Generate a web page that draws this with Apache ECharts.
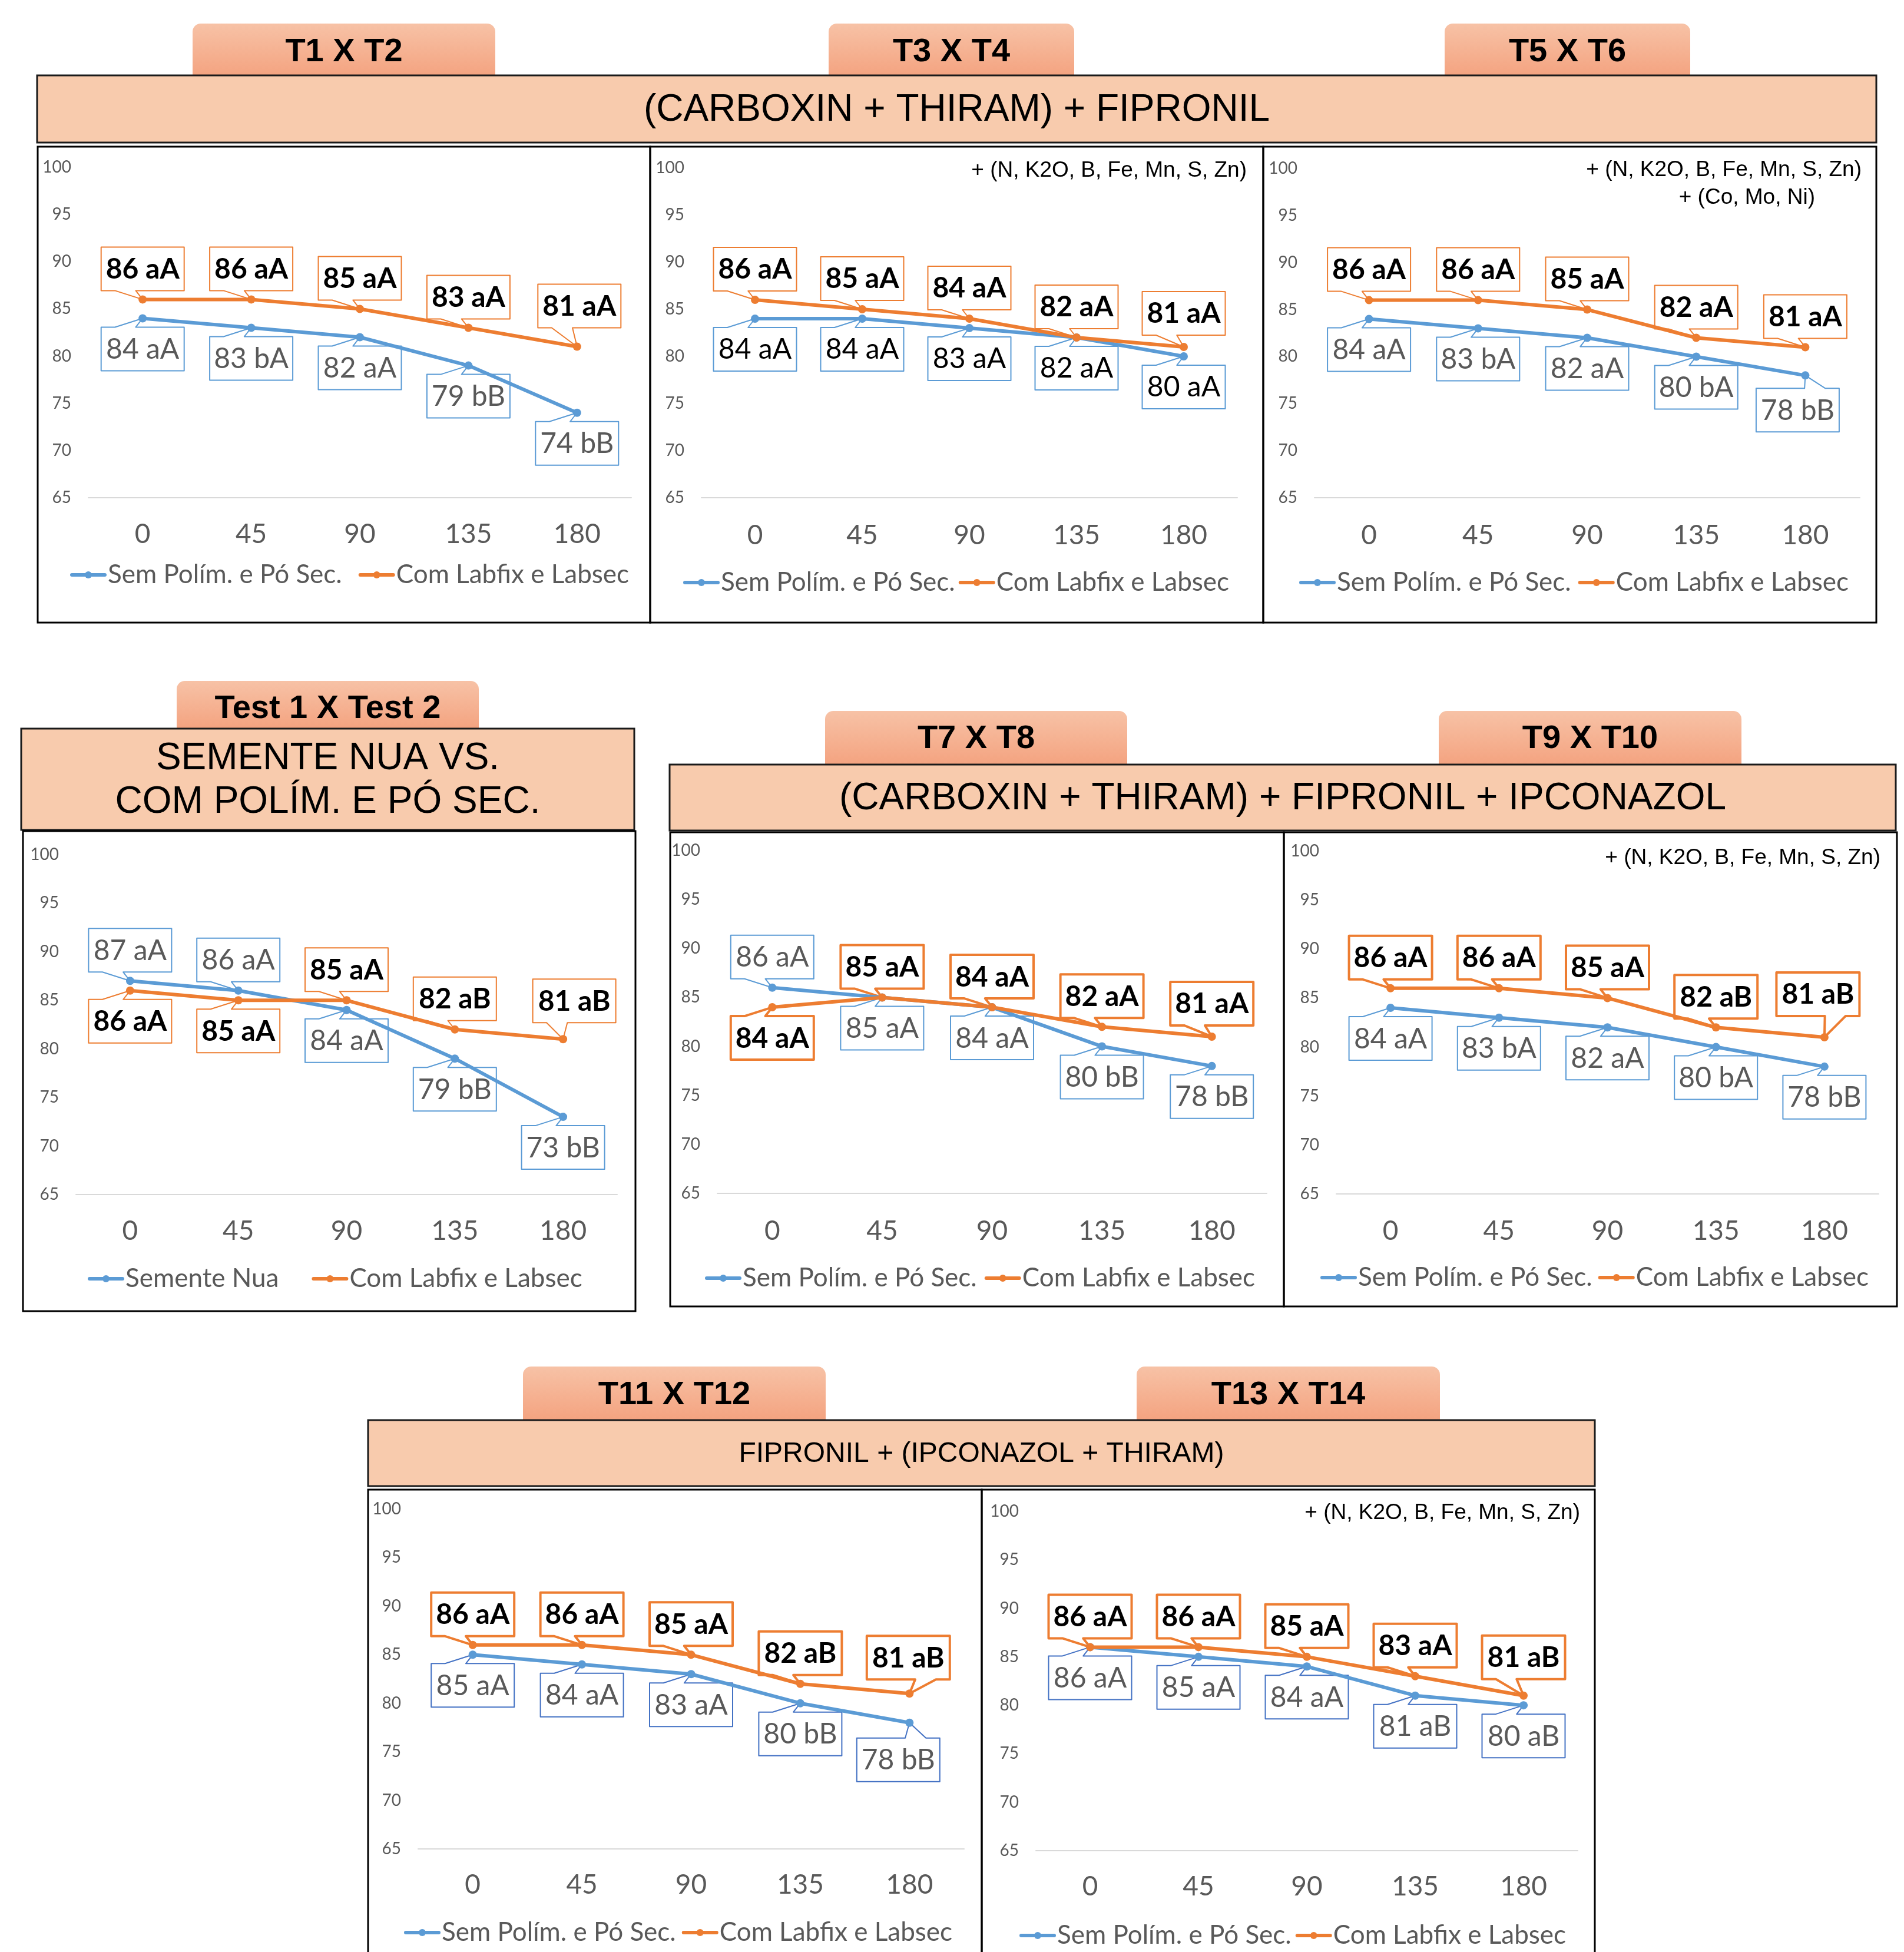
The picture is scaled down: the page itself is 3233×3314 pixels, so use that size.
<!DOCTYPE html>
<html>
<head>
<meta charset="utf-8">
<script src="https://cdn.jsdelivr.net/npm/echarts@6/dist/echarts.min.js"></script>
<style>
  html, body { margin: 0; padding: 0; background: #fff; }
  #main { width: 3233px; height: 3314px; }
</style>
</head>
<body>
<div id="main"></div>
<script>
// doses (x axis)
const doses = ['0', '45', '90', '135', '180'];

// T1 X T2
const t1t2Sem = [84, 83, 82, 79, 74];
const t1t2SemLetters = ['aA', 'bA', 'aA', 'bB', 'bB'];
const t1t2Com = [86, 86, 85, 83, 81];
const t1t2ComLetters = ['aA', 'aA', 'aA', 'aA', 'aA'];
// T3 X T4
const t3t4Sem = [84, 84, 83, 82, 80];
const t3t4SemLetters = ['aA', 'aA', 'aA', 'aA', 'aA'];
const t3t4Com = [86, 85, 84, 82, 81];
const t3t4ComLetters = ['aA', 'aA', 'aA', 'aA', 'aA'];
// T5 X T6
const t5t6Sem = [84, 83, 82, 80, 78];
const t5t6SemLetters = ['aA', 'bA', 'aA', 'bA', 'bB'];
const t5t6Com = [86, 86, 85, 82, 81];
const t5t6ComLetters = ['aA', 'aA', 'aA', 'aA', 'aA'];
// Test 1 X Test 2
const testNua = [87, 86, 84, 79, 73];
const testNuaLetters = ['aA', 'aA', 'aA', 'bB', 'bB'];
const testCom = [86, 85, 85, 82, 81];
const testComLetters = ['aA', 'aA', 'aA', 'aB', 'aB'];
// T7 X T8
const t7t8Sem = [86, 85, 84, 80, 78];
const t7t8SemLetters = ['aA', 'aA', 'aA', 'bB', 'bB'];
const t7t8Com = [84, 85, 84, 82, 81];
const t7t8ComLetters = ['aA', 'aA', 'aA', 'aA', 'aA'];
// T9 X T10
const t9t10Sem = [84, 83, 82, 80, 78];
const t9t10SemLetters = ['aA', 'bA', 'aA', 'bA', 'bB'];
const t9t10Com = [86, 86, 85, 82, 81];
const t9t10ComLetters = ['aA', 'aA', 'aA', 'aB', 'aB'];
// T11 X T12
const t11t12Sem = [85, 84, 83, 80, 78];
const t11t12SemLetters = ['aA', 'aA', 'aA', 'bB', 'bB'];
const t11t12Com = [86, 86, 85, 82, 81];
const t11t12ComLetters = ['aA', 'aA', 'aA', 'aB', 'aB'];
// T13 X T14
const t13t14Sem = [86, 85, 84, 81, 80];
const t13t14SemLetters = ['aA', 'aA', 'aA', 'aB', 'aB'];
const t13t14Com = [86, 86, 85, 83, 81];
const t13t14ComLetters = ['aA', 'aA', 'aA', 'aA', 'aB'];

const SEM = 'Sem Polím. e Pó Sec.';
const NUA = 'Semente Nua';
const COM = 'Com Labfix e Labsec';
const BLUE = '#5B9BD5';
const ORANGE = '#ED7D31';
const GREY = '#595959';
const BODY_FONT = 'Lato';
const TITLE_FONT = 'Liberation Sans';

const UP = [1, 1, 1, 1, 1];
const DOWN = [-1, -1, -1, -1, -1];

// one entry per small chart
const panels = [
  { sem: t1t2Sem, semTag: t1t2SemLetters, com: t1t2Com, comTag: t1t2ComLetters, semName: SEM,
    grid: [150, 284, 1072, 845], xMargin: 39, legend: [119, 954, 28],
    semSide: DOWN, comSide: UP, tweaks: { com4: [4, 32] }, semInk: GREY, semStroke: BLUE, comLw: 2 },
  { sem: t3t4Sem, semTag: t3t4SemLetters, com: t3t4Com, comTag: t3t4ComLetters, semName: SEM,
    grid: [1191, 285, 2101, 845], xMargin: 41, legend: [1160, 967, 6],
    semSide: DOWN, comSide: UP, tweaks: { com4: [0, 20] }, semInk: '#000', semStroke: BLUE, comLw: 2 },
  { sem: t5t6Sem, semTag: t5t6SemLetters, com: t5t6Com, comTag: t5t6ComLetters, semName: SEM,
    grid: [2232, 286, 3158, 845], xMargin: 41, legend: [2206, 967, 12],
    semSide: DOWN, comSide: UP, tweaks: { sem4: [-13, 22] }, semInk: GREY, semStroke: BLUE, comLw: 2 },
  { sem: testNua, semTag: testNuaLetters, com: testCom, comTag: testComLetters, semName: NUA,
    grid: [129, 1451, 1048, 2028], xMargin: 39, legend: [149, 2149, 56],
    semSide: [1, 1, -1, -1, -1], comSide: [-1, -1, 1, 1, 1], tweaks: { com4: [19, 28] }, semInk: GREY, semStroke: BLUE, comLw: 2 },
  { sem: t7t8Sem, semTag: t7t8SemLetters, com: t7t8Com, comTag: t7t8ComLetters, semName: SEM,
    grid: [1218, 1444, 2151, 2026], xMargin: 41, legend: [1197, 2148, 13],
    semSide: [1, -1, -1, -1, -1], comSide: [-1, 1, 1, 1, 1], tweaks: { com4: [0, 19] }, semInk: GREY, semStroke: BLUE, comLw: 4 },
  { sem: t9t10Sem, semTag: t9t10SemLetters, com: t9t10Com, comTag: t9t10ComLetters, semName: SEM,
    grid: [2269, 1445, 3190, 2027], xMargin: 40, legend: [2242, 2147, 10],
    semSide: DOWN, comSide: UP, tweaks: { com4: [-11, 36] }, semInk: GREY, semStroke: BLUE, comLw: 4 },
  { sem: t11t12Sem, semTag: t11t12SemLetters, com: t11t12Com, comTag: t11t12ComLetters, semName: SEM,
    grid: [710, 2562, 1637, 3139], xMargin: 38, legend: [686, 3259, 10],
    semSide: DOWN, comSide: UP, tweaks: { com4: [-2, 24], sem4: [-19, 26] }, semInk: GREY, semStroke: '#4472C4', comLw: 4 },
  { sem: t13t14Sem, semTag: t13t14SemLetters, com: t13t14Com, comTag: t13t14ComLetters, semName: SEM,
    grid: [1759, 2566, 2679, 3142], xMargin: 38, legend: [1731, 3264, 7],
    semSide: DOWN, comSide: UP, tweaks: { com4: [0, 28] }, semInk: GREY, semStroke: '#4472C4', comLw: 4 }
];

// header tabs: x, y, w, h, text, text centre y
const tabs = [
  [327, 40, 514, 89, 'T1 X T2', 89],
  [1407, 40, 417, 89, 'T3 X T4', 89],
  [2453, 40, 417, 89, 'T5 X T6', 89],
  [300, 1156, 513, 81, 'Test 1 X Test 2', 1204],
  [1401, 1207, 513, 91, 'T7 X T8', 1255],
  [2443, 1207, 514, 91, 'T9 X T10', 1255],
  [888, 2320, 514, 91, 'T11 X T12', 2369],
  [1930, 2320, 515, 91, 'T13 X T14', 2369]
];
// title bands: x, y, w, h, text, font size
const bands = [
  [63, 128, 3123, 114, '(CARBOXIN + THIRAM) + FIPRONIL', 64],
  [36, 1237, 1041, 172, 'SEMENTE NUA VS.\nCOM POLÍM. E PÓ SEC.', 64],
  [1137, 1298, 2082, 112, '(CARBOXIN + THIRAM) + FIPRONIL + IPCONAZOL', 64],
  [625, 2411, 2083, 112, 'FIPRONIL + (IPCONAZOL + THIRAM)', 48]
];
// chart frames
const frames = [
  [64, 249, 1040, 808], [1104, 249, 1041, 808], [2145, 249, 1041, 808],
  [39, 1411, 1040, 815], [1138, 1413, 1042, 805], [2180, 1413, 1041, 805],
  [625, 2529, 1042, 800], [1667, 2529, 1041, 800]
];
// small notes inside charts: right x, centre y, text
const notes = [
  [2117, 290, '+ (N, K2O, B, Fe, Mn, S, Zn)'],
  [3161, 289, '+ (N, K2O, B, Fe, Mn, S, Zn)'],
  [3082, 336, '+ (Co, Mo, Ni)'],
  [3193, 1457, '+ (N, K2O, B, Fe, Mn, S, Zn)'],
  [2683, 2569, '+ (N, K2O, B, Fe, Mn, S, Zn)']
];

const graphics = [];
tabs.forEach(t => {
  graphics.push({
    type: 'rect', z: 0,
    shape: { x: t[0], y: t[1], width: t[2], height: t[3], r: [14, 14, 0, 0] },
    style: { fill: new echarts.graphic.LinearGradient(0, 0, 0, 1, [
      { offset: 0, color: '#F7C2A6' }, { offset: 1, color: '#F4A380' }]) }
  });
  graphics.push({
    type: 'text', z: 1,
    style: { text: t[4], x: t[0] + t[2] / 2, y: t[5], textAlign: 'center', align: 'center',
      textVerticalAlign: 'middle', verticalAlign: 'middle',
      font: 'bold 56px "' + TITLE_FONT + '"', fill: '#000' }
  });
});
bands.forEach(b => {
  graphics.push({
    type: 'rect', z: 0,
    shape: { x: b[0], y: b[1], width: b[2], height: b[3] },
    style: { fill: '#F8CBAD', stroke: '#1a1a1a', lineWidth: 3 }
  });
  graphics.push({
    type: 'text', z: 1,
    style: { text: b[4], x: b[0] + b[2] / 2, y: b[1] + b[3] / 2 + 2, textAlign: 'center', align: 'center',
      textVerticalAlign: 'middle', verticalAlign: 'middle', lineHeight: 74,
      font: b[5] + 'px "' + TITLE_FONT + '"', fill: '#000' }
  });
});
frames.forEach(f => {
  graphics.push({
    type: 'rect', z: 0,
    shape: { x: f[0], y: f[1], width: f[2], height: f[3] },
    style: { fill: 'none', stroke: '#000', lineWidth: 3 }
  });
});
notes.forEach(n => {
  graphics.push({
    type: 'text', z: 1,
    style: { text: n[2], x: n[0], y: n[1], textAlign: 'right', align: 'right',
      textVerticalAlign: 'middle', verticalAlign: 'middle',
      font: '37px "' + TITLE_FONT + '"', fill: '#000' }
  });
});

// Excel-like callout label: box + wedge pointing to the data point
function callouts(i, vals, tags, sides, tweaks, key, look) {
  return {
    type: 'custom', xAxisIndex: i, yAxisIndex: i, z: 2, clip: false, silent: true,
    data: vals.map((v, k) => [k, v]),
    renderItem: function (params, api) {
      const k = params.dataIndex;
      const pt = api.coord([api.value(0), api.value(1)]);
      const tw = tweaks[key + k] || [0, 15];
      const up = sides[k] > 0;
      const w = 141, h = 74;
      const cx = pt[0] + tw[0];
      const top = up ? pt[1] - tw[1] - h : pt[1] + tw[1];
      const L = cx - w / 2, R = cx + w / 2, B = top + h;
      const right = pt[0] > cx + 1;
      const a = L + w * (right ? 7 : 2) / 12;
      const b = L + w * (right ? 10 : 5) / 12;
      const pts = up
        ? [[L, top], [R, top], [R, B], [b, B], pt, [a, B], [L, B]]
        : [[L, top], [a, top], pt, [b, top], [R, top], [R, B], [L, B]];
      return {
        type: 'group',
        children: [
          { type: 'polygon', shape: { points: pts },
            style: { fill: '#fff', stroke: look.stroke, lineWidth: look.lw, lineJoin: 'round' } },
          { type: 'text',
            style: { text: vals[k] + ' ' + tags[k], x: cx, y: top + h / 2 + 1,
              textAlign: 'center', align: 'center', textVerticalAlign: 'middle', verticalAlign: 'middle',
              font: (look.bold ? 'bold ' : '') + '48px "' + BODY_FONT + '"', fill: look.ink } }
        ]
      };
    }
  };
}

const grids = [], xAxes = [], yAxes = [], legends = [], series = [];
panels.forEach((p, i) => {
  const g = p.grid;
  grids.push({ left: g[0], top: g[1], width: g[2] - g[0], height: g[3] - g[1] });
  xAxes.push({
    gridIndex: i, type: 'category', data: doses, boundaryGap: true,
    axisLine: { lineStyle: { color: '#D9D9D9', width: 2 } },
    axisTick: { show: false },
    axisLabel: { margin: p.xMargin, fontSize: 46, fontFamily: BODY_FONT, color: GREY }
  });
  yAxes.push({
    gridIndex: i, type: 'value', min: 65, max: 100, interval: 5,
    axisLine: { show: false }, axisTick: { show: false }, splitLine: { show: false },
    axisLabel: { margin: 29, fontSize: 28, fontFamily: BODY_FONT, color: GREY }
  });
  legends.push({
    left: p.legend[0], top: p.legend[1], itemGap: p.legend[2], padding: 0,
    itemWidth: 56, itemHeight: 15, selectedMode: false,
    lineStyle: { width: 6 },
    data: [p.semName, COM],
    textStyle: { fontSize: 44, fontFamily: BODY_FONT, color: GREY }
  });
  series.push(callouts(i, p.sem, p.semTag, p.semSide, p.tweaks, 'sem',
    { stroke: p.semStroke, lw: 2, ink: p.semInk, bold: false }));
  series.push(callouts(i, p.com, p.comTag, p.comSide, p.tweaks, 'com',
    { stroke: ORANGE, lw: p.comLw, ink: '#000', bold: true }));
  [[p.semName, p.sem, BLUE], [COM, p.com, ORANGE]].forEach(s => {
    series.push({
      type: 'line', name: s[0], xAxisIndex: i, yAxisIndex: i, data: s[1], z: 3,
      symbol: 'circle', symbolSize: 14, silent: true,
      lineStyle: { color: s[2], width: 6, cap: 'round' },
      itemStyle: { color: s[2] },
      label: { show: false }
    });
  });
});

const chart = echarts.init(document.getElementById('main'), null, { renderer: 'canvas' });
chart.setOption({
  animation: false,
  backgroundColor: '#fff',
  graphic: { elements: graphics },
  grid: grids,
  xAxis: xAxes,
  yAxis: yAxes,
  legend: legends,
  series: series
});
</script>
</body>
</html>
